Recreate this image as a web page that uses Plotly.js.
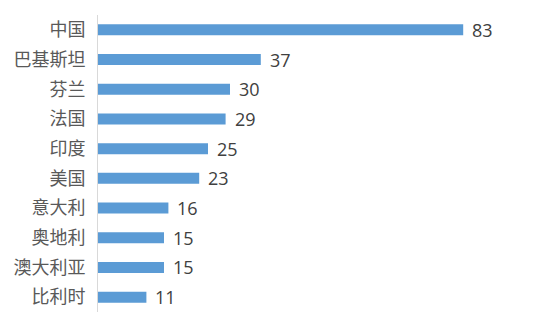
<!DOCTYPE html>
<html>
<head>
<meta charset="utf-8">
<script src="https://cdn.plot.ly/plotly-3.0.1.min.js"></script>
<style>html,body{margin:0;padding:0;background:#fff;}#chart{width:554px;height:327px;}</style>
</head>
<body>
<div id="chart"></div>
<script>
const categories = ["中国", "巴基斯坦", "芬兰", "法国", "印度", "美国", "意大利", "奥地利", "澳大利亚", "比利时"];
const values = [83, 37, 30, 29, 25, 23, 16, 15, 15, 11];

const trace = {
  type: 'bar',
  orientation: 'h',
  y: categories,
  x: values,
  width: 0.37,
  marker: {color: '#5b9bd5'},
  hoverinfo: 'none'
};

const annotations = categories.map((c, i) => ({
  x: values[i], y: c, xref: 'x', yref: 'y',
  text: String(values[i]), showarrow: false,
  xanchor: 'left', xshift: 7,
  font: {family: '"Open Sans", "Noto Sans", sans-serif', size: 18, color: '#404040'}
}));

const layout = {
  width: 554, height: 327,
  margin: {l: 98, r: 16, t: 15, b: 15},
  paper_bgcolor: '#ffffff', plot_bgcolor: '#ffffff',
  showlegend: false,
  xaxis: {range: [0, 100], visible: false, fixedrange: true},
  yaxis: {
    autorange: 'reversed',
    showline: true, linecolor: '#d9d9d9', linewidth: 1,
    showgrid: false, zeroline: false, ticks: '',
    ticklabelstandoff: 8,
    tickfont: {family: '"Noto Sans CJK SC", sans-serif', size: 18, color: '#595959'}
  },
  annotations: annotations
};

Plotly.newPlot('chart', [trace], layout, {displayModeBar: false, staticPlot: true});
</script>
</body>
</html>
